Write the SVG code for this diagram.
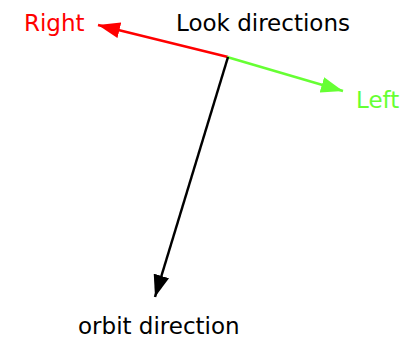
<svg xmlns="http://www.w3.org/2000/svg" width="420" height="342" viewBox="0 0 420 342">
<style>
text{font-family:"DejaVu Sans",sans-serif;font-size:23px}
.c{fill:none;stroke-width:2.5}
</style>
<defs>
<marker id="ar" viewBox="0 0 22 16" refX="22" refY="8" markerWidth="22" markerHeight="16" markerUnits="userSpaceOnUse" orient="auto"><path d="M0,0L22,8L0,16z" fill="#ff0000"/></marker>
<marker id="ag" viewBox="0 0 22 16" refX="22" refY="8" markerWidth="22" markerHeight="16" markerUnits="userSpaceOnUse" orient="auto"><path d="M0,0L22,8L0,16z" fill="#66ff33"/></marker>
<marker id="ak" viewBox="0 0 22 16" refX="22" refY="8" markerWidth="22" markerHeight="16" markerUnits="userSpaceOnUse" orient="auto"><path d="M0,0L22,8L0,16z" fill="#000"/></marker>
</defs>
<g id="connectors">
<path class="c" d="M228,57L98,25" stroke="#ff0000" marker-end="url(#ar)"/>
<path class="c" d="M227,57L343,91" stroke="#66ff33" marker-end="url(#ag)"/>
<path class="c" d="M228,57L155,297" stroke="#000" marker-end="url(#ak)"/>
</g>
<g id="right"><text x="24" y="31" fill="#ff0000">Right</text></g>
<g id="look"><text x="176" y="31" fill="#000">Look directions</text></g>
<g id="left"><text x="356" y="108" fill="#66ff33">Left</text></g>
<g id="orbit"><text x="78" y="334" fill="#000">orbit direction</text></g>
</svg>
